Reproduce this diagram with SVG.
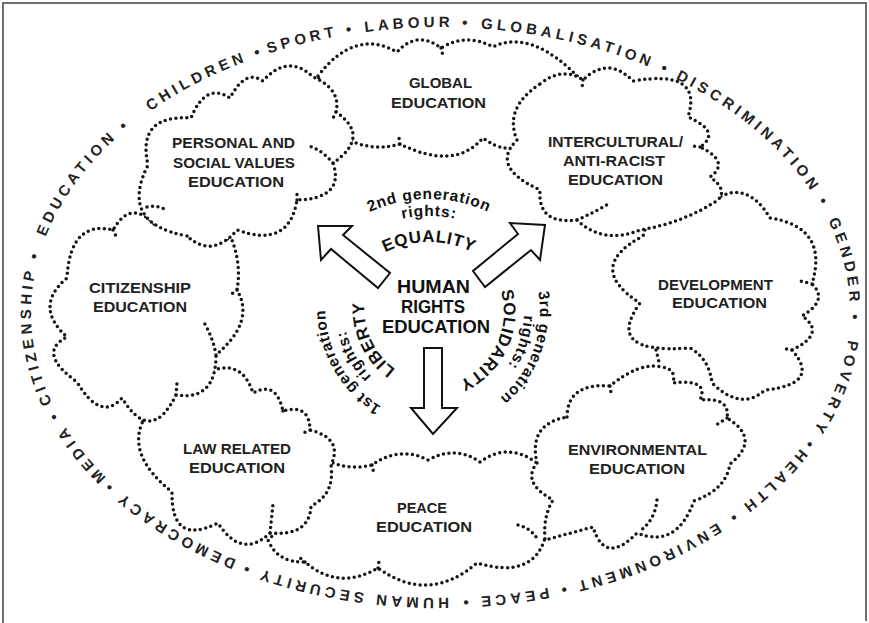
<svg xmlns="http://www.w3.org/2000/svg" width="869" height="623" viewBox="0 0 869 623">
<style>
.cloud{fill:#fff;stroke:#151515;stroke-width:3.5;stroke-linecap:round;stroke-linejoin:round;stroke-dasharray:0 5.5}
.stub{fill:none;stroke:#151515;stroke-width:3.5;stroke-linecap:round;stroke-dasharray:0 5.5}
.lbl{font-family:"Liberation Sans",Arial,sans-serif;font-weight:bold;font-size:15px;fill:#222;text-anchor:middle}
.hre{font-family:"Liberation Sans",Arial,sans-serif;font-weight:bold;font-size:18px;fill:#111;text-anchor:middle}
.gen{font-family:"Liberation Sans",Arial,sans-serif;font-weight:bold;font-size:15.5px;fill:#111;letter-spacing:0.8px;text-anchor:middle}
.big{font-family:"Liberation Sans",Arial,sans-serif;font-weight:bold;font-size:17px;fill:#111;letter-spacing:0.6px;text-anchor:middle}
.ring{font-family:"Liberation Sans",Arial,sans-serif;font-weight:bold;font-size:15px;fill:#222;letter-spacing:4.1px}
.arrow{fill:#fff;stroke:#111;stroke-width:2;stroke-linejoin:miter}
.frame{stroke:#6e6e6e;stroke-width:2;fill:none}
</style>
<defs>
<path id="ringPath" d="M52.6,404 A409.5,285.5 0 0 1 828.4,221 A409.5,285.5 0 0 1 52.6,404"/>
<path id="t1" d="M329.3,240.3 A141,141 0 0 1 528.7,240.3"/>
<path id="t2" d="M341.3,252.3 A124,124 0 0 1 516.7,252.3"/>
<path id="t3" d="M359.7,270.7 A98,98 0 0 1 498.3,270.7"/>
<path id="r1" d="M475.3,210.5 A112,112 0 0 1 399,420.2"/>
<path id="r2" d="M465.5,223.6 A96,96 0 0 1 406.4,405.5"/>
<path id="r3" d="M466,246.2 A76,76 0 0 1 402,383.4"/>
<path id="l1" d="M488.4,411.8 A114.5,114.5 0 0 1 374.3,214.2"/>
<path id="l2" d="M479.5,396.6 A97,97 0 0 1 385.8,227.6"/>
<path id="l3" d="M466,379.4 A76,76 0 0 1 402,242.2"/>
</defs>
<rect width="869" height="623" fill="#fff"/>

<g id="cloud-global">
<path class="cloud" d="M318,76 Q354.5,28 397,52 Q417,30 441,48 Q467,32.5 493,47 Q532,27.5 583,82 L565,115 L525,143 Q506,155.5 483,138 Q454.5,171 400,144 Q377.5,151 353,142 L335,120 Z"/>
<path class="stub" d="M441,48 L443,56"/>
<path class="stub" d="M400,144 L399,138"/>
<text class="lbl" x="440.5" y="88" textLength="63" lengthAdjust="spacingAndGlyphs">GLOBAL</text>
<text class="lbl" x="438.5" y="108" textLength="95" lengthAdjust="spacingAndGlyphs">EDUCATION</text>
</g>

<g id="cloud-development">
<path class="cloud" d="M716,199 Q747,179.5 770,218 Q829,227 812,284 Q829,300 802,316 Q827,333 792,350 Q821.5,384 765,390 Q741.5,411.5 712,383 Q709,358.5 690,348 Q603,354.5 640,303 Q584,267.5 643,236 L650,215 L700,205 Z"/>
<path class="stub" d="M812,284 L797,280"/>
<path class="stub" d="M792,350 L786,349"/>
<path class="stub" d="M656,350 L660,366"/>
<text class="lbl" x="715.5" y="290" textLength="115" lengthAdjust="spacingAndGlyphs">DEVELOPMENT</text>
<text class="lbl" x="719.5" y="308" textLength="95" lengthAdjust="spacingAndGlyphs">EDUCATION</text>
</g>

<g id="cloud-peace">
<path class="cloud" d="M333,463 Q351.5,470 372,465 Q400,445.5 428,460 Q456,445 480,462 Q507.5,441.5 537,463 L560,480 L560,530 L545,538 Q533,579.5 477,563 Q428.5,604.5 378,568 Q338.5,591 305,562 Q277.5,563 268,540 L300,510 L325,470 Z"/>
<path class="stub" d="M372,465 L374,474"/>
<path class="stub" d="M378,568 L379,561"/>
<path class="stub" d="M305,562 L299,557"/>
<path class="stub" d="M518,525 Q531,528 538,540"/>
<text class="lbl" x="422" y="513" textLength="50" lengthAdjust="spacingAndGlyphs">PEACE</text>
<text class="lbl" x="424" y="532" textLength="96" lengthAdjust="spacingAndGlyphs">EDUCATION</text>
</g>

<g id="cloud-law">
<path class="cloud" d="M143,421 L160,400 L200,380 L214,370 Q242.5,360.5 253,393 Q276,380 283,411 Q309.5,403.5 310,430 Q343.5,438.5 331,465 Q335,494.5 311,506 Q309.5,536.5 270,533 Q242,560 218,523 Q171,546.5 172,492 Q126.5,455.5 143,421 Z"/>
<path class="stub" d="M270,533 L273,504"/>
<path class="stub" d="M283,411 L281,415"/>
<path class="stub" d="M310,430 L303,433"/>
<text class="lbl" x="237" y="454" textLength="108" lengthAdjust="spacingAndGlyphs">LAW RELATED</text>
<text class="lbl" x="237" y="473" textLength="96" lengthAdjust="spacingAndGlyphs">EDUCATION</text>
</g>

<g id="cloud-citizenship">
<path class="cloud" d="M154,224 Q130.5,199 113,230 Q70,220 67,278 Q33,306.5 67,337 Q36,352.5 77,382 Q100.5,422 122,398 Q151,445.5 176,395 Q216,401 216,355 Q255.5,321.5 237,290 Q241.5,265 232,240 L190,230 Z"/>
<path class="stub" d="M113,230 L117,238"/>
<path class="stub" d="M176,395 L177,383"/>
<path class="stub" d="M216,355 Q213,337 203,321"/>
<path class="stub" d="M237,290 L229,296"/>
<text class="lbl" x="140" y="293" textLength="102" lengthAdjust="spacingAndGlyphs">CITIZENSHIP</text>
<text class="lbl" x="140" y="312" textLength="94" lengthAdjust="spacingAndGlyphs">EDUCATION</text>
</g>

<g id="cloud-personal">
<path class="cloud" d="M187,236 Q118.5,223.5 148,165 Q136.5,114.5 191,118 Q205.5,82 230,98 Q245.5,68.5 263,81 Q288,53 313,77 Q341.5,89.5 336,112 Q371.5,136.5 333,163 Q345,198.5 297,200 Q289,249 237,230 Q212,259 187,236 Z"/>
<path class="stub" d="M333,163 Q322,150 309,146"/>
<path class="stub" d="M147,207 Q156,205 164,209"/>
<path class="stub" d="M297,200 L297,193"/>
<path class="stub" d="M336,112 L333,118"/>
<text class="lbl" x="233.5" y="148" textLength="123" lengthAdjust="spacingAndGlyphs">PERSONAL AND</text>
<text class="lbl" x="234" y="168" textLength="122" lengthAdjust="spacingAndGlyphs">SOCIAL VALUES</text>
<text class="lbl" x="236" y="187" textLength="96" lengthAdjust="spacingAndGlyphs">EDUCATION</text>
</g>

<g id="cloud-intercultural">
<path class="cloud" d="M540,84 Q562.5,66 583,80 Q608,55.5 633,81 Q703.5,69 688,117 Q722,132 700,147 Q731,162 710,177 Q728,189.5 718,200 Q683,223 640,230 Q603.5,245 577,220 Q537.5,225 540,190 Q489.5,167 517,140 Q503.5,108 540,84 Z"/>
<path class="stub" d="M577,220 Q595,212 610,203"/>
<path class="stub" d="M583,80 L582,88"/>
<path class="stub" d="M700,147 L693,146"/>
<text class="lbl" x="615.5" y="147" textLength="135" lengthAdjust="spacingAndGlyphs">INTERCULTURAL/</text>
<text class="lbl" x="614" y="166" textLength="102" lengthAdjust="spacingAndGlyphs">ANTI-RACIST</text>
<text class="lbl" x="615.5" y="185" textLength="95" lengthAdjust="spacingAndGlyphs">EDUCATION</text>
</g>

<g id="cloud-environmental">
<path class="cloud" d="M567,417 Q567.5,382.5 610,386 Q640,361.5 662,367 Q676.5,369 673,383 Q709.5,378.5 700,400 Q730.5,397 727,418 Q761.5,439 730,464 Q726,489.5 694,501 Q676.5,549 637,533 Q605,566 593,527 L545,540 Q543,516 553,500 Q521,482.5 537,463 Q528,424 567,417 Z"/>
<path class="stub" d="M657,500 Q655,520 640,531"/>
<path class="stub" d="M610,386 L611,393"/>
<path class="stub" d="M727,418 L716,425"/>
<text class="lbl" x="637.5" y="455" textLength="139" lengthAdjust="spacingAndGlyphs">ENVIRONMENTAL</text>
<text class="lbl" x="637" y="474" textLength="96" lengthAdjust="spacingAndGlyphs">EDUCATION</text>
</g>

<g id="connectors">
<polygon class="arrow" points="318,226 352,226 343,235 390,273 378,288 331,249 321,260"/>
<polygon class="arrow" points="545,225 540,260 531,250 485,287 473,271 518,234 510,223"/>
<polygon class="arrow" points="424,348 442,348 442,408 457,408 433,434 411,408 424,408"/>
</g>

<g id="node-hre">
<text class="hre" x="433.5" y="293" textLength="73" lengthAdjust="spacingAndGlyphs">HUMAN</text>
<text class="hre" x="433" y="313" textLength="64" lengthAdjust="spacingAndGlyphs">RIGHTS</text>
<text class="hre" x="436" y="333" textLength="108" lengthAdjust="spacingAndGlyphs">EDUCATION</text>
</g>

<g id="generations">
<text class="gen"><textPath href="#t1" startOffset="50%">2nd generation</textPath></text>
<text class="gen"><textPath href="#t2" startOffset="50%">rights:</textPath></text>
<text class="big"><textPath href="#t3" startOffset="50%">EQUALITY</textPath></text>
<text class="gen"><textPath href="#r1" startOffset="50%">3rd generation</textPath></text>
<text class="gen"><textPath href="#r2" startOffset="50%">rights:</textPath></text>
<text class="big"><textPath href="#r3" startOffset="50%">SOLIDARITY</textPath></text>
<text class="gen"><textPath href="#l1" startOffset="50%">1st generation</textPath></text>
<text class="gen"><textPath href="#l2" startOffset="50%">rights:</textPath></text>
<text class="big"><textPath href="#l3" startOffset="50%">LIBERTY</textPath></text>
</g>

<g id="ring">
<text class="ring"><textPath href="#ringPath" startOffset="1">CITIZENSHIP •</textPath></text>
<text class="ring"><textPath href="#ringPath" startOffset="172">EDUCATION •</textPath></text>
<text class="ring"><textPath href="#ringPath" startOffset="338">CHILDREN •</textPath></text>
<text class="ring"><textPath href="#ringPath" startOffset="470">SPORT •</textPath></text>
<text class="ring"><textPath href="#ringPath" startOffset="569">LABOUR •</textPath></text>
<text class="ring"><textPath href="#ringPath" startOffset="685">GLOBALISATION •</textPath></text>
<text class="ring"><textPath href="#ringPath" startOffset="887">DISCRIMINATION •</textPath></text>
<text class="ring"><textPath href="#ringPath" startOffset="1099">GENDER •</textPath></text>
<text class="ring"><textPath href="#ringPath" startOffset="1222">POVERTY •</textPath></text>
<text class="ring"><textPath href="#ringPath" startOffset="1342">HEALTH •</textPath></text>
<text class="ring"><textPath href="#ringPath" startOffset="1454">ENVIRONMENT •</textPath></text>
<text class="ring"><textPath href="#ringPath" startOffset="1636">PEACE •</textPath></text>
<text class="ring"><textPath href="#ringPath" startOffset="1736">HUMAN SECURITY •</textPath></text>
<text class="ring"><textPath href="#ringPath" startOffset="1953">DEMOCRACY •</textPath></text>
<text class="ring"><textPath href="#ringPath" startOffset="2108">MEDIA •</textPath></text>
</g>

<g id="frame">
<path class="frame" d="M3,623 L3,3 L866,3 L866,621"/>
</g>
</svg>
